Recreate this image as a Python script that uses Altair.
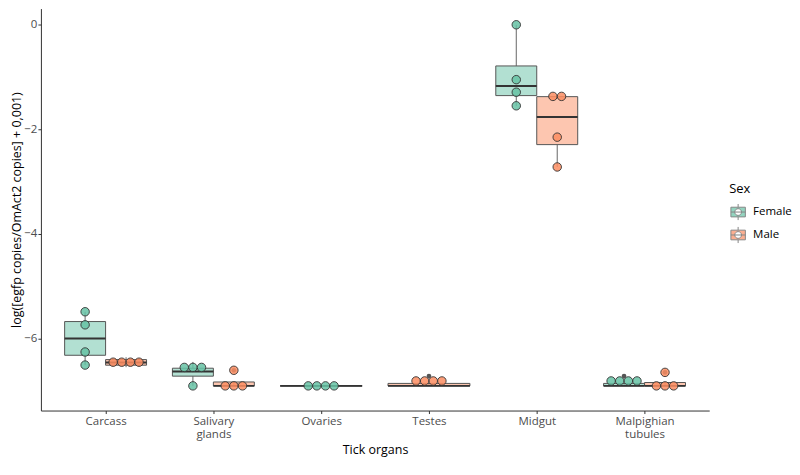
import json
import altair as alt
import numpy as np
import pandas as pd

# ---- data (natural log of ratio + 0.001) ----
organs = ["Carcass", "Salivary glands", "Ovaries", "Testes", "Midgut", "Malpighian tubules"]
sexes = ["Female", "Male"]
colors = ["#66C2A5", "#FC8D62"]

female_carcass = [-5.49, -5.74, -6.26, -6.51]
female_salivary = [-6.45, -6.61, -6.66, -6.908]
female_ovaries = [-6.908, -6.908, -6.908, -6.908]
female_midgut = [0.0, -1.05, -1.29, -1.55]
female_malpighian = [-6.72, -6.908, -6.908, -6.908]

male_carcass = [-6.36, -6.42, -6.50, -6.55]
male_salivary = [-6.61, -6.908, -6.908, -6.908]
male_testes = [-6.72, -6.908, -6.908, -6.908]
male_midgut = [-1.36, -1.38, -2.15, -2.72]
male_malpighian = [-6.65, -6.908, -6.908, -6.908]

groups = {
    "Female": {"Carcass": female_carcass, "Salivary glands": female_salivary,
               "Ovaries": female_ovaries, "Midgut": female_midgut,
               "Malpighian tubules": female_malpighian},
    "Male": {"Carcass": male_carcass, "Salivary glands": male_salivary,
             "Testes": male_testes, "Midgut": male_midgut,
             "Malpighian tubules": male_malpighian},
}

all_vals = [v for s in groups.values() for vs in s.values() for v in vs]
binwidth = (max(all_vals) - min(all_vals)) / 30.0  # ggplot dotplot default
stack_step = 0.08

box_rows, dot_rows, out_rows = [], [], []
for oi, organ in enumerate(organs):
    present = [s for s in sexes if organ in groups[s]]
    for k, s in enumerate(present):
        if len(present) == 1:
            center, half = oi, 0.38
        else:
            center, half = oi + (-0.19 if k == 0 else 0.19), 0.19
        vals = np.array(groups[s][organ], dtype=float)
        q1, med, q3 = np.percentile(vals, [25, 50, 75])
        iqr = q3 - q1
        inside = vals[(vals >= q1 - 1.5 * iqr) & (vals <= q3 + 1.5 * iqr)]
        box_rows.append(dict(Organ=organ, Sex=s, xl=center - half, xr=center + half,
                             xc=center, q1=q1, q3=q3, median=med,
                             lo=inside.min(), hi=inside.max()))
        for v in vals[(vals < q1 - 1.5 * iqr) | (vals > q3 + 1.5 * iqr)]:
            out_rows.append(dict(Organ=organ, Sex=s, x=center, y=v))
        # dot-density binning (centered stacks)
        sv = sorted(vals)
        bins, cur = [], [sv[0]]
        for v in sv[1:]:
            if v >= cur[0] + binwidth:
                bins.append(cur)
                cur = [v]
            else:
                cur.append(v)
        bins.append(cur)
        for b in bins:
            yc = (b[0] + b[-1]) / 2
            m = len(b)
            for i in range(m):
                dot_rows.append(dict(Organ=organ, Sex=s, x=center + (i - (m - 1) / 2) * stack_step, y=yc))

box_df = pd.DataFrame(box_rows)
dot_df = pd.DataFrame(dot_rows)
out_df = pd.DataFrame(out_rows)

xs = alt.Scale(domain=[-0.6, 5.6], nice=False, zero=False)
ys = alt.Scale(domain=[-7.38, 0.31], nice=False, zero=False)
fill_scale = alt.Scale(domain=sexes, range=colors)

label_expr = "split(" + json.dumps(organs) + "[datum.value], ' ')"
x_axis = alt.Axis(values=list(range(len(organs))), labelExpr=label_expr, title="Tick organs",
                  grid=False, tickSize=3, labelPadding=2, labelLineHeight=13.5, titlePadding=3)
y_axis = alt.Axis(values=[-6, -4, -2, 0], format="d",
                  title="log([egfp copies/OmAct2 copies] + 0,001)",
                  grid=False, tickSize=3, labelPadding=1, titlePadding=0)

sym = ("M-0.9,-0.6H0.9V0.6H-0.9Z M0,-0.6V-1 M0,0.6V1 M-0.9,0H0.9 "
       "M0.42,0A0.42,0.42 0 1,0 -0.42,0A0.42,0.42 0 1,0 0.42,0Z")
legend = alt.Legend(title="Sex", symbolType=sym, symbolSize=260, symbolStrokeColor="#555",
                    symbolStrokeWidth=1, symbolOpacity=0.7, orient="none",
                    legendX=690, legendY=175, titleFontSize=13, labelFontSize=11.5,
                    rowPadding=1, titlePadding=7, labelOffset=6)

base_box = alt.Chart(box_df)
whisk_lo = base_box.mark_rule(color="#666", strokeWidth=1).encode(
    x=alt.X("xc:Q", scale=xs, axis=x_axis), y=alt.Y("lo:Q", scale=ys, axis=y_axis), y2="q1:Q")
whisk_hi = base_box.mark_rule(color="#666", strokeWidth=1).encode(
    x=alt.X("xc:Q", scale=xs), y=alt.Y("q3:Q", scale=ys), y2="hi:Q")
boxes = base_box.mark_rect(fillOpacity=0.5, stroke="#555", strokeWidth=1).encode(
    x=alt.X("xl:Q", scale=xs), x2="xr:Q",
    y=alt.Y("q1:Q", scale=ys), y2="q3:Q",
    fill=alt.Fill("Sex:N", scale=fill_scale, legend=legend))
medians = base_box.mark_rule(color="#333", strokeWidth=2).encode(
    x=alt.X("xl:Q", scale=xs), x2="xr:Q", y=alt.Y("median:Q", scale=ys))
outliers = alt.Chart(out_df).mark_circle(size=22, color="#555", opacity=1).encode(
    x=alt.X("x:Q", scale=xs), y=alt.Y("y:Q", scale=ys))
dots = alt.Chart(dot_df).mark_circle(size=72, stroke="#333", strokeWidth=0.9,
                                     fillOpacity=0.85, strokeOpacity=1).encode(
    x=alt.X("x:Q", scale=xs), y=alt.Y("y:Q", scale=ys),
    fill=alt.Fill("Sex:N", scale=fill_scale, legend=legend))

chart = alt.layer(whisk_lo, whisk_hi, boxes, medians, outliers, dots).properties(
    width=670, height=403, padding={"left": 2, "top": 0, "right": 0, "bottom": 0}
).configure_view(stroke=None).configure_axis(
    domainColor="#333", domainWidth=1, tickColor="#333", labelColor="#4D4D4D",
    titleColor="#000", labelFont="Open Sans", titleFont="Open Sans",
    labelFontSize=11.5, titleFontSize=12.5, titleFontWeight="normal"
).configure_legend(labelFont="Open Sans", titleFont="Open Sans", titleFontWeight="normal",
                   titleColor="#000", labelColor="#000")

chart.save("out.html", embed_options={"renderer": "svg", "actions": False})
